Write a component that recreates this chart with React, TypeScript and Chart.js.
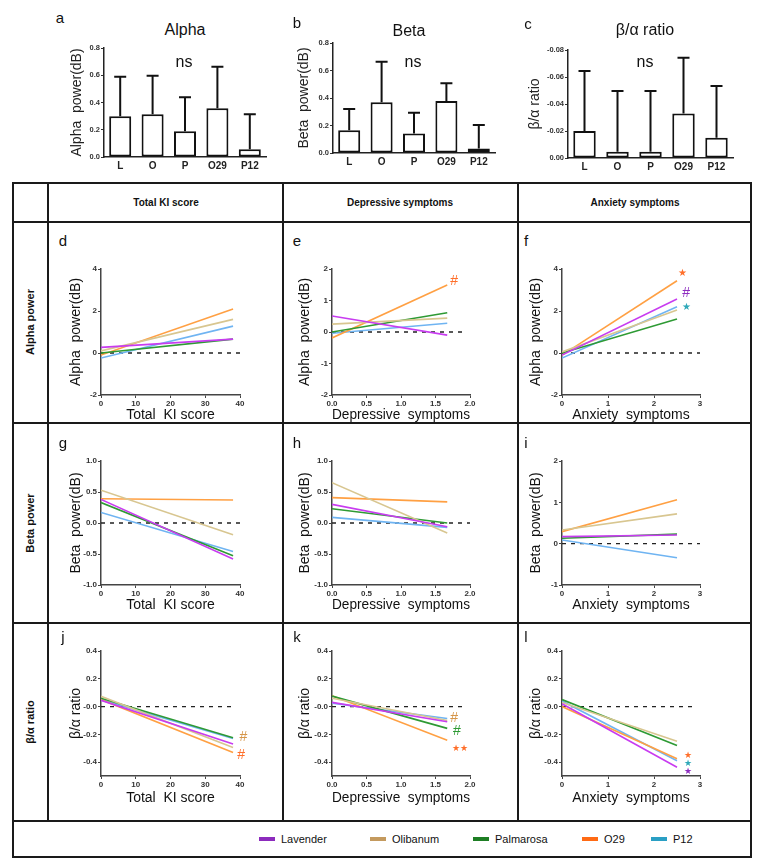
import React, { useEffect, useRef } from 'react';
import { Chart, registerables } from 'chart.js';

Chart.register(...registerables);

const FONT = '"Liberation Sans", Arial, Helvetica, sans-serif';

// ---------------- Bar panels (a, b, c) ----------------
const barCategories = ['L', 'O', 'P', 'O29', 'P12'];
const alphaMeans = [0.3, 0.313, 0.189, 0.357, 0.056];
const alphaErrTop = [0.589, 0.597, 0.438, 0.663, 0.313];
const betaMeans = [0.166, 0.369, 0.142, 0.378, 0.032];
const betaErrTop = [0.32, 0.664, 0.293, 0.508, 0.203];
const ratioMeans = [-0.02, -0.0047, -0.0047, -0.033, -0.015];
const ratioErrTop = [-0.0644, -0.0496, -0.0496, -0.0743, -0.0533];

const barPowerTicks = [0, 0.2, 0.4, 0.6, 0.8];
const barPowerTickLabels = ['0.0', '0.2', '0.4', '0.6', '0.8'];
const barRatioTicks = [-0.08, -0.06, -0.04, -0.02, 0];
const barRatioTickLabels = ['-0.08', '-0.06', '-0.04', '-0.02', '0.00'];

// ---------------- Regression panels (d - l) ----------------
const seriesNames = ['Lavender', 'Olibanum', 'Palmarosa', 'O29', 'P12'];
const lineColors = ['#c83cf0', '#d8c690', '#2e9a34', '#ffa043', '#6fb4f2'];
const legendColors = ['#8c2bbd', '#c49a5e', '#1e7e24', '#ff6a14', '#2a9fc4'];

const kiTicks = [0, 10, 20, 30, 40];
const kiTickLabels = ['0', '10', '20', '30', '40'];
const depTicks = [0, 0.5, 1, 1.5, 2];
const depTickLabels = ['0.0', '0.5', '1.0', '1.5', '2.0'];
const anxTicks = [0, 1, 2, 3];
const anxTickLabels = ['0', '1', '2', '3'];

const alphaWideTicks = [-2, 0, 2, 4];
const alphaWideTickLabels = ['-2', '0', '2', '4'];
const alphaDepTicks = [-2, -1, 0, 1, 2];
const alphaDepTickLabels = ['-2', '-1', '0', '1', '2'];
const betaTicks = [-1, -0.5, 0, 0.5, 1];
const betaTickLabels = ['-1.0', '-0.5', '0.0', '0.5', '1.0'];
const betaAnxTicks = [-1, 0, 1, 2];
const betaAnxTickLabels = ['-1', '0', '1', '2'];
const ratioTicks = [-0.4, -0.2, 0, 0.2, 0.4];
const ratioTickLabels = ['-0.4', '-0.2', '-0.0', '0.2', '0.4'];

// series order: Lavender, Olibanum, Palmarosa, O29, P12
const dStarts = [0.27, 0.1, 0.0, -0.1, -0.24];
const dEnds = [0.66, 1.6, 0.66, 2.1, 1.28];
const eStarts = [0.51, 0.25, 0.0, -0.19, -0.04];
const eEnds = [-0.1, 0.44, 0.61, 1.49, 0.28];
const fStarts = [-0.1, 0.05, 0.0, -0.1, -0.24];
const fEnds = [2.57, 2.05, 1.62, 3.44, 2.2];
const gStarts = [0.38, 0.53, 0.33, 0.39, 0.17];
const gEnds = [-0.58, -0.19, -0.53, 0.37, -0.46];
const hStarts = [0.3, 0.65, 0.23, 0.41, 0.09];
const hEnds = [-0.06, -0.16, 0.0, 0.34, -0.07];
const iStarts = [0.17, 0.33, 0.13, 0.29, 0.09];
const iEnds = [0.21, 0.72, 0.23, 1.06, -0.34];
const jStarts = [0.045, 0.074, 0.06, 0.05, 0.05];
const jEnds = [-0.27, -0.295, -0.224, -0.33, -0.23];
const kStarts = [0.03, 0.06, 0.075, 0.078, 0.025];
const kEnds = [-0.11, -0.1, -0.157, -0.243, -0.086];
const lStarts = [0.02, 0.03, 0.05, 0.0, 0.04];
const lEnds = [-0.437, -0.25, -0.28, -0.376, -0.39];

const C_ORANGE = '#ff6f2a';
const C_PURPLE = '#8e2dc0';
const C_TEAL = '#2fa8b8';
const C_TAN = '#d6964a';
const C_GREEN = '#2e9a34';

const eMarks = [{ x: 1.77, y: 1.6, t: '#', c: C_ORANGE, s: 14 }];
const fMarks = [
  { x: 2.61, y: 3.8, t: '★', c: C_ORANGE, s: 10 },
  { x: 2.7, y: 2.85, t: '#', c: C_PURPLE, s: 14 },
  { x: 2.7, y: 2.2, t: '★', c: C_TEAL, s: 10 },
];
const jMarks = [
  { x: 41, y: -0.22, t: '#', c: C_TAN, s: 14 },
  { x: 40.3, y: -0.35, t: '#', c: C_ORANGE, s: 14 },
];
const kMarks = [
  { x: 1.77, y: -0.085, t: '#', c: C_TAN, s: 14 },
  { x: 1.81, y: -0.176, t: '#', c: C_GREEN, s: 14 },
  { x: 1.86, y: -0.3, t: '★★', c: C_ORANGE, s: 9 },
];
const lMarks = [
  { x: 2.73, y: -0.35, t: '★', c: C_ORANGE, s: 9 },
  { x: 2.73, y: -0.41, t: '★', c: C_TEAL, s: 9 },
  { x: 2.73, y: -0.465, t: '★', c: C_PURPLE, s: 9 },
];

// ---------------- layout constants ----------------
const LH14 = 14 * 1.2;
const colLeft = [101, 332, 562];
const colWidth = [139, 138, 138];
const colYOff = [25, 27, 26];
const rowTop = [269, 461, 651];
const rowHeight = [126, 124, 125];
const rowXOff = [20, 20, 22];

const LYW = 50, LT = 14, LR = 28, LXH = 36;
const BYW = 50, BT = 10, BR = 10, BXH = 24;

type Mark = { x: number; y: number; t: string; c: string; s: number };

const annotPlugin = {
  id: 'annot',
  afterDatasetsDraw(chart: any, _args: any, opts: any) {
    const items: Mark[] = (opts && opts.items) || [];
    const { ctx } = chart;
    const xs = chart.scales.x;
    const ys = chart.scales.y;
    ctx.save();
    items.forEach((it) => {
      ctx.fillStyle = it.c;
      ctx.font = `${it.s}px ${FONT}`;
      ctx.textAlign = 'center';
      ctx.textBaseline = 'middle';
      ctx.fillText(it.t, xs.getPixelForValue(it.x), ys.getPixelForValue(it.y));
    });
    ctx.restore();
  },
};

const errPlugin = {
  id: 'errbars',
  afterDatasetsDraw(chart: any, _args: any, opts: any) {
    const tops: number[] = (opts && opts.tops) || [];
    const meta = chart.getDatasetMeta(0);
    const ys = chart.scales.y;
    const { ctx } = chart;
    ctx.save();
    ctx.strokeStyle = '#111';
    ctx.lineWidth = 2;
    meta.data.forEach((el: any, i: number) => {
      const top = ys.getPixelForValue(tops[i]);
      ctx.beginPath();
      ctx.moveTo(el.x, el.y);
      ctx.lineTo(el.x, top);
      ctx.moveTo(el.x - 6, top);
      ctx.lineTo(el.x + 6, top);
      ctx.stroke();
    });
    ctx.restore();
  },
};

type LinePanel = {
  row: number; col: number;
  xMin: number; xMax: number; xTicks: number[]; xLabels: string[]; xTitle: string;
  yMin: number; yMax: number; yTicks: number[]; yLabels: string[]; yTitle: string;
  xEnd: number; starts: number[]; ends: number[]; zeroEnd: number; marks: Mark[];
};

const KI = { xMin: 0, xMax: 40, xTicks: kiTicks, xLabels: kiTickLabels, xTitle: 'Total  KI score', xEnd: 38 };
const DEP = { xMin: 0, xMax: 2, xTicks: depTicks, xLabels: depTickLabels, xTitle: 'Depressive  symptoms', xEnd: 1.67 };
const ANX = { xMin: 0, xMax: 3, xTicks: anxTicks, xLabels: anxTickLabels, xTitle: 'Anxiety  symptoms', xEnd: 2.5 };

const panels: LinePanel[] = [
  { row: 0, col: 0, ...KI, yMin: -2, yMax: 4, yTicks: alphaWideTicks, yLabels: alphaWideTickLabels, yTitle: 'Alpha  power(dB)', starts: dStarts, ends: dEnds, zeroEnd: 40, marks: [] },
  { row: 0, col: 1, ...DEP, yMin: -2, yMax: 2, yTicks: alphaDepTicks, yLabels: alphaDepTickLabels, yTitle: 'Alpha  power(dB)', starts: eStarts, ends: eEnds, zeroEnd: 1.9, marks: eMarks },
  { row: 0, col: 2, ...ANX, yMin: -2, yMax: 4, yTicks: alphaWideTicks, yLabels: alphaWideTickLabels, yTitle: 'Alpha  power(dB)', starts: fStarts, ends: fEnds, zeroEnd: 3, marks: fMarks },
  { row: 1, col: 0, ...KI, yMin: -1, yMax: 1, yTicks: betaTicks, yLabels: betaTickLabels, yTitle: 'Beta  power(dB)', starts: gStarts, ends: gEnds, zeroEnd: 40, marks: [] },
  { row: 1, col: 1, ...DEP, yMin: -1, yMax: 1, yTicks: betaTicks, yLabels: betaTickLabels, yTitle: 'Beta  power(dB)', starts: hStarts, ends: hEnds, zeroEnd: 2, marks: [] },
  { row: 1, col: 2, ...ANX, yMin: -1, yMax: 2, yTicks: betaAnxTicks, yLabels: betaAnxTickLabels, yTitle: 'Beta  power(dB)', starts: iStarts, ends: iEnds, zeroEnd: 3, marks: [] },
  { row: 2, col: 0, ...KI, yMin: -0.5, yMax: 0.4, yTicks: ratioTicks, yLabels: ratioTickLabels, yTitle: 'β/α ratio', starts: jStarts, ends: jEnds, zeroEnd: 38, marks: jMarks },
  { row: 2, col: 1, ...DEP, yMin: -0.5, yMax: 0.4, yTicks: ratioTicks, yLabels: ratioTickLabels, yTitle: 'β/α ratio', starts: kStarts, ends: kEnds, zeroEnd: 1.9, marks: kMarks },
  { row: 2, col: 2, ...ANX, yMin: -0.5, yMax: 0.4, yTicks: ratioTicks, yLabels: ratioTickLabels, yTitle: 'β/α ratio', starts: lStarts, ends: lEnds, zeroEnd: 2.85, marks: lMarks },
];

const tickFont = { family: FONT, size: 8, weight: 'bold' as const };
const titleFont = { family: FONT, size: 14 };

function lineConfig(p: LinePanel): any {
  const xOff = rowXOff[p.row];
  const yOff = colYOff[p.col];
  const datasets: any[] = seriesNames.map((n, i) => ({
    label: n,
    data: [{ x: 0, y: p.starts[i] }, { x: p.xEnd, y: p.ends[i] }],
    borderColor: lineColors[i],
    borderWidth: 1.6,
    pointRadius: 0,
    fill: false,
    tension: 0,
  }));
  datasets.push({
    label: 'zero',
    data: [{ x: 0, y: 0 }, { x: p.zeroEnd, y: 0 }],
    borderColor: '#222',
    borderWidth: 1.3,
    borderDash: [4, 5],
    pointRadius: 0,
    fill: false,
  });
  return {
    type: 'line',
    data: { datasets },
    options: {
      responsive: false,
      animation: false,
      layout: { padding: { left: 0, right: LR, top: LT, bottom: 0 } },
      plugins: { legend: { display: false }, tooltip: { enabled: false }, annot: { items: p.marks } },
      scales: {
        x: {
          type: 'linear', min: p.xMin, max: p.xMax,
          afterBuildTicks: (s: any) => { s.ticks = p.xTicks.map((v) => ({ value: v })); },
          afterFit: (s: any) => { s.height = LXH; },
          ticks: { callback: (_v: any, i: number) => p.xLabels[i], font: tickFont, color: '#333', padding: 1, maxRotation: 0, autoSkip: false },
          grid: { drawOnChartArea: false, drawTicks: true, tickLength: 3, color: '#444', lineWidth: 1 },
          border: { display: true, color: '#444', width: 1.5 },
          title: { display: true, text: p.xTitle, color: '#111', font: titleFont, padding: { top: 0, bottom: LXH - xOff - LH14 / 2 } },
        },
        y: {
          type: 'linear', min: p.yMin, max: p.yMax,
          afterBuildTicks: (s: any) => { s.ticks = p.yTicks.map((v) => ({ value: v })); },
          afterFit: (s: any) => { s.width = LYW; },
          ticks: { callback: (_v: any, i: number) => p.yLabels[i], font: tickFont, color: '#333', padding: 1, autoSkip: false },
          grid: { drawOnChartArea: false, drawTicks: true, tickLength: 3, color: '#444', lineWidth: 1 },
          border: { display: true, color: '#444', width: 1.5 },
          title: { display: true, text: p.yTitle, color: '#111', font: titleFont, padding: { top: LYW - yOff - LH14 / 2, bottom: 0 } },
        },
      },
    },
    plugins: [annotPlugin],
  };
}

type BarPanel = {
  left: number; top: number; width: number; height: number; yOff: number;
  means: number[]; errTop: number[]; yMin: number; yMax: number; reverse: boolean;
  yTicks: number[]; yLabels: string[]; yTitle: string;
};

const barPanels: BarPanel[] = [
  { left: 104, top: 48, width: 162, height: 109, yOff: 27, means: alphaMeans, errTop: alphaErrTop, yMin: 0, yMax: 0.8, reverse: false, yTicks: barPowerTicks, yLabels: barPowerTickLabels, yTitle: 'Alpha  power(dB)' },
  { left: 333, top: 43, width: 162, height: 110, yOff: 29, means: betaMeans, errTop: betaErrTop, yMin: 0, yMax: 0.8, reverse: false, yTicks: barPowerTicks, yLabels: barPowerTickLabels, yTitle: 'Beta  power(dB)' },
  { left: 568, top: 50, width: 165, height: 108, yOff: 33, means: ratioMeans, errTop: ratioErrTop, yMin: -0.08, yMax: 0, reverse: true, yTicks: barRatioTicks, yLabels: barRatioTickLabels, yTitle: 'β/α ratio' },
];

function barConfig(p: BarPanel): any {
  return {
    type: 'bar',
    data: {
      labels: barCategories,
      datasets: [{
        data: p.means,
        backgroundColor: '#ffffff',
        borderColor: '#111',
        borderWidth: 2,
        borderSkipped: false,
        barPercentage: 0.68,
        categoryPercentage: 1,
      }],
    },
    options: {
      responsive: false,
      animation: false,
      layout: { padding: { left: 0, right: BR, top: BT, bottom: 0 } },
      plugins: { legend: { display: false }, tooltip: { enabled: false }, errbars: { tops: p.errTop } },
      scales: {
        x: {
          afterFit: (s: any) => { s.height = BXH; },
          ticks: { font: { family: FONT, size: 10, weight: 'bold' }, color: '#222', padding: 3 },
          grid: { display: false, drawTicks: false },
          border: { display: true, color: '#222', width: 1.5 },
        },
        y: {
          min: p.yMin, max: p.yMax, reverse: p.reverse,
          afterBuildTicks: (s: any) => { s.ticks = p.yTicks.map((v) => ({ value: v })); },
          afterFit: (s: any) => { s.width = BYW; },
          ticks: { callback: (_v: any, i: number) => p.yLabels[i], font: { family: FONT, size: 7.5, weight: 'bold' }, color: '#333', padding: 1, autoSkip: false },
          grid: { drawOnChartArea: false, drawTicks: true, tickLength: 3, color: '#333', lineWidth: 1 },
          border: { display: true, color: '#222', width: 1.5 },
          title: { display: true, text: p.yTitle, color: '#222', font: titleFont, padding: { top: BYW - p.yOff - LH14 / 2, bottom: 0 } },
        },
      },
    },
    plugins: [errPlugin],
  };
}

function ChartBox({ x, y, w, h, make }: { x: number; y: number; w: number; h: number; make: () => any }) {
  const ref = useRef<HTMLCanvasElement | null>(null);
  useEffect(() => {
    if (!ref.current) return;
    const chart = new Chart(ref.current, make());
    return () => chart.destroy();
  }, []);
  return (
    <canvas
      ref={ref}
      width={w}
      height={h}
      style={{ position: 'absolute', left: x, top: y, width: w, height: h }}
    />
  );
}

function Txt({ x, y, children, size = 14, bold = false, rotate = false, color = '#111' }: any) {
  return (
    <div
      style={{
        position: 'absolute',
        left: x,
        top: y,
        transform: `translate(-50%, -50%)${rotate ? ' rotate(-90deg)' : ''}`,
        fontSize: size,
        fontWeight: bold ? 'bold' : 'normal',
        color,
        whiteSpace: 'nowrap',
        lineHeight: 1,
        fontFamily: FONT,
      }}
    >
      {children}
    </div>
  );
}

function Line({ x, y, w, h }: { x: number; y: number; w: number; h: number }) {
  return <div style={{ position: 'absolute', left: x, top: y, width: w, height: h, background: '#1a1a1a' }} />;
}

const barTitles = [
  { t: 'Alpha', x: 185, y: 30 },
  { t: 'Beta', x: 409, y: 31 },
  { t: 'β/α ratio', x: 645, y: 30 },
];
const barLetters = [
  { t: 'a', x: 60, y: 17 },
  { t: 'b', x: 297, y: 22 },
  { t: 'c', x: 528, y: 23 },
];
const nsPos = [
  { x: 184, y: 62 },
  { x: 413, y: 62 },
  { x: 645, y: 62 },
];
const panelLetters = [
  ['d', 'e', 'f'],
  ['g', 'h', 'i'],
  ['j', 'k', 'l'],
];
const letterX = [63, 297, 526];
const letterY = [240, 442, 636];
const headerTexts = ['Total KI score', 'Depressive symptoms', 'Anxiety symptoms'];
const headerX = [166, 400, 635];
const rowHeaders = ['Alpha power', 'Beta power', 'β/α ratio'];
const rowHeaderY = [322, 523, 722];
const legendSwatchX = [259, 370, 473, 582, 651];

export default function App() {
  return (
    <div
      style={{
        position: 'absolute',
        left: 0,
        top: 0,
        width: 762,
        height: 868,
        background: '#fff',
        fontFamily: FONT,
        overflow: 'hidden',
      }}
    >
      {/* Table */}
      <div style={{ position: 'absolute', left: 12, top: 182, width: 740, height: 676, border: '2px solid #1a1a1a', boxSizing: 'border-box' }} />
      <Line x={12} y={221} w={740} h={2} />
      <Line x={12} y={422} w={740} h={2} />
      <Line x={12} y={622} w={740} h={2} />
      <Line x={12} y={820} w={740} h={2} />
      <Line x={47} y={182} w={2} h={640} />
      <Line x={282} y={182} w={2} h={640} />
      <Line x={517} y={182} w={2} h={640} />

      {headerTexts.map((t, i) => (
        <Txt key={t} x={headerX[i]} y={203} size={10} bold>{t}</Txt>
      ))}
      {rowHeaders.map((t, i) => (
        <Txt key={t} x={30} y={rowHeaderY[i]} size={11} bold rotate>{t}</Txt>
      ))}

      {/* Bar charts */}
      {barPanels.map((p, i) => (
        <ChartBox
          key={'bar' + i}
          x={p.left - BYW}
          y={p.top - BT}
          w={BYW + p.width + BR}
          h={BT + p.height + BXH}
          make={() => barConfig(p)}
        />
      ))}
      {barTitles.map((b) => (
        <Txt key={b.t} x={b.x} y={b.y} size={16}>{b.t}</Txt>
      ))}
      {barLetters.map((b) => (
        <Txt key={b.t} x={b.x} y={b.y} size={15}>{b.t}</Txt>
      ))}
      {nsPos.map((n, i) => (
        <Txt key={'ns' + i} x={n.x} y={n.y} size={16}>ns</Txt>
      ))}

      {/* Regression charts */}
      {panels.map((p, i) => (
        <ChartBox
          key={'line' + i}
          x={colLeft[p.col] - LYW}
          y={rowTop[p.row] - LT}
          w={LYW + colWidth[p.col] + LR}
          h={LT + rowHeight[p.row] + LXH}
          make={() => lineConfig(p)}
        />
      ))}
      {panelLetters.map((row, r) =>
        row.map((l, c) => (
          <Txt key={l} x={letterX[c]} y={letterY[r]} size={15}>{l}</Txt>
        ))
      )}

      {/* Legend */}
      {seriesNames.map((n, i) => (
        <React.Fragment key={n}>
          <div
            style={{
              position: 'absolute',
              left: legendSwatchX[i],
              top: 837,
              width: 16,
              height: 4,
              background: legendColors[i],
            }}
          />
          <div
            style={{
              position: 'absolute',
              left: legendSwatchX[i] + 22,
              top: 832,
              fontSize: 11,
              lineHeight: '14px',
              color: '#111',
              whiteSpace: 'nowrap',
              fontFamily: FONT,
            }}
          >
            {n}
          </div>
        </React.Fragment>
      ))}
    </div>
  );
}
